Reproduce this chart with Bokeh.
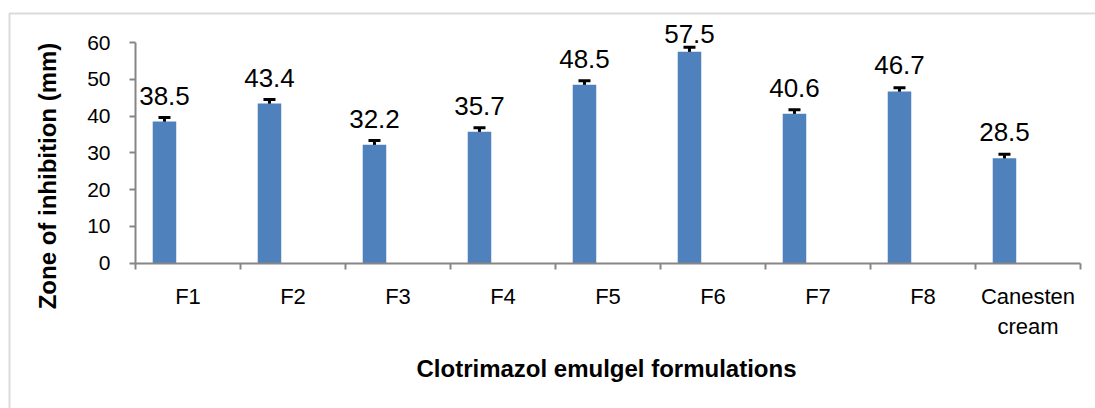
from bokeh.plotting import figure
from bokeh.models import (ColumnDataSource, Range1d, FixedTicker, Whisker, TeeHead,
                          LabelSet, Label, BoxAnnotation)
from bokeh.core.properties import value
from bokeh.embed import file_html
from bokeh.resources import INLINE
import math

categories = ["F1", "F2", "F3", "F4", "F5", "F6", "F7", "F8", "Canesten\ncream"]
values = [38.5, 43.4, 32.2, 35.7, 48.5, 57.5, 40.6, 46.7, 28.5]
errors = [1.1, 1.1, 1.1, 1.1, 1.1, 1.2, 1.1, 1.0, 1.1]
y_ticks = [0, 10, 20, 30, 40, 50, 60]
x_title = "Clotrimazol emulgel formulations"
y_title = "Zone of inhibition (mm)"

FONT = "Liberation Sans"
AXIS_COLOR = "#868686"

# layout (picture pixels)
W, H, M = 1095, 408, 0
AX_LEFT, AX_RIGHT = 135.0, 1080.0
AX_TOP, AX_BOTTOM = 42.0, 262.5
LABEL_GAP, LABEL_MIN_BASELINE = 17.0, 42.7
n = len(categories)
YMAX = 60.0
sx = (AX_RIGHT - AX_LEFT) / n
sy = (AX_BOTTOM - AX_TOP) / YMAX


def dx(px):
    return (px - AX_LEFT) / sx


def dy(py):
    return (AX_BOTTOM - py) / sy


idx = list(range(n))
bar_x = [i + 0.276 for i in idx]
# labels float above bars but are kept inside the chart area (as the spreadsheet does)
label_off = [min(LABEL_GAP, (AX_BOTTOM - v * sy) - LABEL_MIN_BASELINE) for v in values]
src = ColumnDataSource(dict(
    x=bar_x,
    top=values,
    upper=[v + e for v, e in zip(values, errors)],
    lower=[v - e for v, e in zip(values, errors)],
    label=[f"{v:.1f}" for v in values],
    off=label_off,
))

p = figure(width=W, height=H, output_backend="svg", toolbar_location=None,
           x_range=Range1d(dx(M), dx(M + W)), y_range=Range1d(dy(M + H), dy(M)),
           min_border=0)
p.outline_line_color = None
p.xgrid.visible = False
p.ygrid.visible = False
p.background_fill_color = "white"
p.border_fill_color = "white"

p.vbar(x="x", top="top", bottom=0, width=0.224, source=src,
       fill_color="#4F81BD", line_color=None)

w = Whisker(base="x", upper="upper", lower="lower", source=src,
            line_color="black", line_width=3,
            upper_head=TeeHead(size=12, line_width=3, line_color="black"),
            lower_head=TeeHead(size=12, line_width=3, line_color="black"))
p.add_layout(w)

labels = LabelSet(x="x", y="top", text="label", source=src, y_offset="off",
                  text_align="center", text_baseline="alphabetic",
                  text_font=value(FONT), text_font_size="26px", text_color="black")
p.add_layout(labels)

# x axis
xa = p.xaxis[0]
xa.fixed_location = 0
xa.bounds = (0, n)
xa.ticker = FixedTicker(ticks=[i + 0.5 for i in idx], minor_ticks=list(range(n + 1)))
xa.major_label_overrides = {i + 0.5: c for i, c in zip(idx, categories)}
xa.major_tick_out = 0
xa.major_tick_in = 0
xa.minor_tick_out = 6
xa.minor_tick_in = 0
xa.minor_tick_line_color = AXIS_COLOR
xa.minor_tick_line_width = 2
xa.axis_line_color = AXIS_COLOR
xa.axis_line_width = 2
xa.major_label_text_font = FONT
xa.major_label_text_font_size = "22px"
xa.major_label_text_color = "black"
xa.major_label_standoff = 15

# y axis
ya = p.yaxis[0]
ya.fixed_location = 0
ya.bounds = (0, YMAX)
ya.ticker = FixedTicker(ticks=y_ticks, minor_ticks=[])
ya.major_tick_out = 6
ya.major_tick_in = 0
ya.major_tick_line_color = AXIS_COLOR
ya.major_tick_line_width = 2
ya.axis_line_color = AXIS_COLOR
ya.axis_line_width = 2
ya.major_label_text_font = FONT
ya.major_label_text_font_size = "21px"
ya.major_label_text_color = "black"
ya.major_label_standoff = 19

p.add_layout(Label(x=dx(47), y=dy(175.5), text=y_title, angle=math.pi / 2,
                   text_align="center", text_baseline="middle", text_font=FONT,
                   text_font_style="bold", text_font_size="24px", text_color="black"))
p.add_layout(Label(x=dx(606), y=dy(368), text=x_title,
                   text_align="center", text_baseline="middle", text_font=FONT,
                   text_font_style="bold", text_font_size="24px", text_color="black"))

frame = BoxAnnotation(left=dx(9), right=dx(3000), top=dy(13), bottom=dy(3000),
                      fill_color=None, fill_alpha=0, line_color="#888888", line_width=2)
p.add_layout(frame)

open("out.html", "w").write(file_html(p, INLINE))
